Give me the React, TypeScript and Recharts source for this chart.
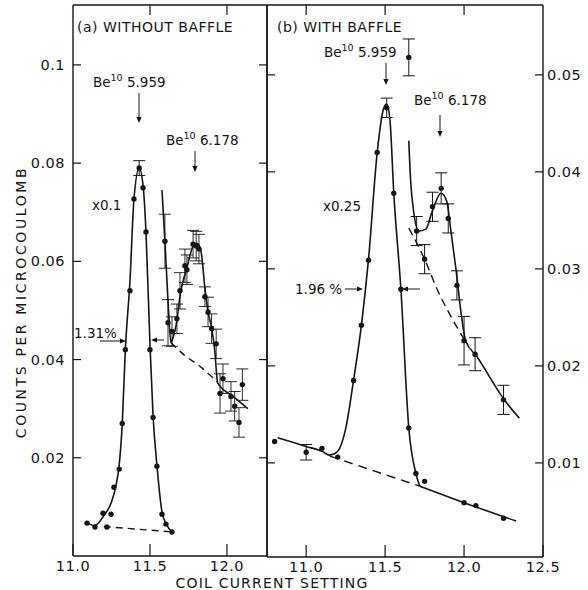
import React from 'react';
import { ComposedChart, Line, Scatter, XAxis, YAxis, ErrorBar } from 'recharts';

// ---------- tick definitions ----------
const leftXTicks = [11.0, 11.5, 12.0];
const leftXLabels = ['11.0', '11.5', '12.0'];
const leftTopTicks = [11.5, 12.0];
const leftYTicks = [0.02, 0.04, 0.06, 0.08, 0.1];
const leftYLabels = ['0.02', '0.04', '0.06', '0.08', '0.1'];

const rightXTicks = [11.0, 11.5, 12.0, 12.5];
const rightXLabels = ['11.0', '11.5', '12.0', '12.5'];
const rightTopTicks = [11.0, 11.5, 12.0];
const rightYTicks = [0.01, 0.02, 0.03, 0.04, 0.05];
const rightYLabels = ['0.01', '0.02', '0.03', '0.04', '0.05'];

// ---------- (a) without baffle ----------
const leftPeakCurve = [
  { x: 11.09, y: 0.0068 }, { x: 11.14, y: 0.0062 }, { x: 11.2, y: 0.0082 },
  { x: 11.25, y: 0.011 }, { x: 11.28, y: 0.0145 }, { x: 11.3, y: 0.0185 },
  { x: 11.32, y: 0.027 }, { x: 11.34, y: 0.042 }, { x: 11.37, y: 0.056 },
  { x: 11.396, y: 0.0727 }, { x: 11.43, y: 0.079 }, { x: 11.455, y: 0.0755 },
  { x: 11.474, y: 0.066 }, { x: 11.5, y: 0.043 }, { x: 11.52, y: 0.0285 },
  { x: 11.545, y: 0.0185 }, { x: 11.578, y: 0.009 }, { x: 11.604, y: 0.0066 },
  { x: 11.645, y: 0.0049 },
];
const leftPeakPoints = [
  { x: 11.091, y: 0.0067 }, { x: 11.143, y: 0.0059 }, { x: 11.195, y: 0.0087 },
  { x: 11.22, y: 0.0059 }, { x: 11.247, y: 0.0085 }, { x: 11.266, y: 0.014 },
  { x: 11.3, y: 0.0177 }, { x: 11.32, y: 0.027 }, { x: 11.34, y: 0.042 },
  { x: 11.37, y: 0.054 }, { x: 11.396, y: 0.0727 }, { x: 11.455, y: 0.075 },
  { x: 11.474, y: 0.066 }, { x: 11.5, y: 0.042 }, { x: 11.52, y: 0.0282 },
  { x: 11.545, y: 0.0183 }, { x: 11.578, y: 0.0085 }, { x: 11.604, y: 0.0065 },
  { x: 11.643, y: 0.0049 },
];
const leftPeakErrPoints = [{ x: 11.43, y: 0.079, e: 0.0015 }];
const leftBaseline = [{ x: 11.2, y: 0.006 }, { x: 11.65, y: 0.0049 }];
const leftSecondCurve = [
  { x: 11.578, y: 0.0745 }, { x: 11.597, y: 0.0641 }, { x: 11.617, y: 0.052 },
  { x: 11.636, y: 0.0435 }, { x: 11.65, y: 0.0445 }, { x: 11.675, y: 0.048 },
  { x: 11.695, y: 0.053 }, { x: 11.74, y: 0.0587 }, { x: 11.78, y: 0.0631 },
  { x: 11.805, y: 0.0637 }, { x: 11.83, y: 0.0623 }, { x: 11.857, y: 0.0545 },
  { x: 11.877, y: 0.0497 }, { x: 11.9, y: 0.0465 }, { x: 11.92, y: 0.042 },
  { x: 11.94, y: 0.0352 }, { x: 12.04, y: 0.0325 }, { x: 12.136, y: 0.03 },
];
const leftSecondBg = [
  { x: 11.636, y: 0.0435 }, { x: 11.72, y: 0.041 }, { x: 11.825, y: 0.0386 },
  { x: 11.94, y: 0.0354 },
];
const leftSecondPoints = [
  { x: 11.597, y: 0.0641, e: 0.0055 }, { x: 11.617, y: 0.0475, e: 0.0047 },
  { x: 11.643, y: 0.0457, e: 0.003 }, { x: 11.675, y: 0.0483, e: 0.003 },
  { x: 11.695, y: 0.054, e: 0.0037 }, { x: 11.727, y: 0.0591, e: 0.0034 },
  { x: 11.74, y: 0.0583, e: 0.003 }, { x: 11.78, y: 0.0635, e: 0.0028 },
  { x: 11.8, y: 0.0631, e: 0.003 }, { x: 11.818, y: 0.0625, e: 0.003 },
  { x: 11.857, y: 0.0528, e: 0.002 }, { x: 11.877, y: 0.0497, e: 0.003 },
  { x: 11.9, y: 0.0463, e: 0.003 }, { x: 11.93, y: 0.0432, e: 0.003 },
  { x: 11.955, y: 0.0331, e: 0.004 }, { x: 11.974, y: 0.0361, e: 0.003 },
  { x: 12.026, y: 0.0325, e: 0.003 }, { x: 12.05, y: 0.0305, e: 0.003 },
  { x: 12.078, y: 0.0272, e: 0.003 }, { x: 12.1, y: 0.0349, e: 0.0032 },
];

// ---------- (b) with baffle ----------
const rightPeakCurve = [
  { x: 10.82, y: 0.0126 }, { x: 11.0, y: 0.0117 }, { x: 11.1, y: 0.0112 },
  { x: 11.15, y: 0.0108 }, { x: 11.2, y: 0.0112 }, { x: 11.25, y: 0.0135 },
  { x: 11.3, y: 0.0185 }, { x: 11.35, y: 0.0242 }, { x: 11.395, y: 0.031 },
  { x: 11.45, y: 0.042 }, { x: 11.49, y: 0.0465 }, { x: 11.51, y: 0.047 },
  { x: 11.53, y: 0.0455 }, { x: 11.555, y: 0.0378 }, { x: 11.6, y: 0.0279 },
  { x: 11.65, y: 0.0136 }, { x: 11.695, y: 0.0089 }, { x: 11.72, y: 0.0076 },
];
const rightBaselineDashed = [{ x: 11.15, y: 0.0107 }, { x: 11.72, y: 0.0076 }];
const rightBaselineSolid = [
  { x: 11.72, y: 0.0076 }, { x: 12.0, y: 0.0059 }, { x: 12.33, y: 0.004 },
];
const rightSecondCurve = [
  { x: 11.65, y: 0.0432 }, { x: 11.662, y: 0.039 }, { x: 11.68, y: 0.036 },
  { x: 11.713, y: 0.0339 }, { x: 11.758, y: 0.0341 }, { x: 11.8, y: 0.036 },
  { x: 11.854, y: 0.0378 }, { x: 11.89, y: 0.037 }, { x: 11.917, y: 0.0339 },
  { x: 11.95, y: 0.0298 }, { x: 11.98, y: 0.0256 }, { x: 12.01, y: 0.0226 },
  { x: 12.08, y: 0.021 }, { x: 12.255, y: 0.0165 }, { x: 12.35, y: 0.0146 },
];
const rightSecondBg = [
  { x: 11.65, y: 0.0342 }, { x: 11.75, y: 0.031 }, { x: 11.835, y: 0.0277 },
  { x: 11.92, y: 0.025 }, { x: 12.01, y: 0.0225 },
];
const rightPoints = [
  { x: 10.8, y: 0.0122 }, { x: 11.1, y: 0.0115 }, { x: 11.2, y: 0.0106 },
  { x: 11.3, y: 0.0185 }, { x: 11.35, y: 0.0242 }, { x: 11.395, y: 0.0309 },
  { x: 11.45, y: 0.042 }, { x: 11.555, y: 0.0378 }, { x: 11.6, y: 0.0279 },
  { x: 11.65, y: 0.0136 }, { x: 11.695, y: 0.0089 }, { x: 11.75, y: 0.0081 },
  { x: 12.0, y: 0.0059 }, { x: 12.075, y: 0.0056 }, { x: 12.25, y: 0.0043 },
];
const rightErrPoints = [
  { x: 11.0, y: 0.0111, e: 0.0008 }, { x: 11.51, y: 0.0466, e: 0.001 },
  { x: 11.65, y: 0.0518, e: 0.0019 }, { x: 11.7, y: 0.0339, e: 0.0015 },
  { x: 11.75, y: 0.031, e: 0.0015 }, { x: 11.8, y: 0.0364, e: 0.0015 },
  { x: 11.855, y: 0.0383, e: 0.0016 }, { x: 11.9, y: 0.0352, e: 0.0015 },
  { x: 11.955, y: 0.0283, e: 0.0015 }, { x: 12.0, y: 0.0226, e: 0.0025 },
  { x: 12.07, y: 0.0212, e: 0.0017 }, { x: 12.25, y: 0.0165, e: 0.0015 },
];

const INK = '#151515';
const FONT = '"DejaVu Sans", "Liberation Sans", sans-serif';
const TICK_FS = 14.5;

const labelFor = (ticks: number[], labels: string[], v: number) => {
  const i = ticks.findIndex((t) => Math.abs(t - v) < 1e-9);
  return i >= 0 ? labels[i] : '';
};

const makeYTick = (side: 'left' | 'right', len: number, ticks: number[], labels: string[] | null) =>
  (props: any) => {
    const { x, y, payload } = props;
    const dir = side === 'left' ? 1 : -1;
    return (
      <g>
        <line x1={x} x2={x + dir * len} y1={y} y2={y} stroke={INK} strokeWidth={1.2} />
        {labels && (
          <text
            x={side === 'left' ? x - 8 : x + 4}
            y={y + 5}
            textAnchor={side === 'left' ? 'end' : 'start'}
            fontSize={TICK_FS}
            letterSpacing={0.5}
            fontFamily={FONT}
            fill={INK}
          >
            {labelFor(ticks, labels, payload.value)}
          </text>
        )}
      </g>
    );
  };

const makeXTick = (side: 'bottom' | 'top', len: number, ticks: number[], labels: string[] | null) =>
  (props: any) => {
    const { x, y, payload } = props;
    const dir = side === 'bottom' ? -1 : 1;
    return (
      <g>
        <line x1={x} x2={x} y1={y} y2={y + dir * len} stroke={INK} strokeWidth={1.2} />
        {labels && (
          <text x={x} y={y + 15} textAnchor="middle" fontSize={TICK_FS} letterSpacing={0.5} fontFamily={FONT} fill={INK}>
            {labelFor(ticks, labels, payload.value)}
          </text>
        )}
      </g>
    );
  };

const Dot = (props: any) => <circle cx={props.cx} cy={props.cy} r={2.7} fill={INK} />;

const axisLine = { stroke: INK, strokeWidth: 1.4 };

const Arrow = ({ x1, y1, x2, y2 }: { x1: number; y1: number; x2: number; y2: number }) => {
  const ang = Math.atan2(y2 - y1, x2 - x1);
  const L = 6;
  const W = 2.6;
  const bx = x2 - L * Math.cos(ang);
  const by = y2 - L * Math.sin(ang);
  const px = -Math.sin(ang) * W;
  const py = Math.cos(ang) * W;
  return (
    <g>
      <line x1={x1} y1={y1} x2={bx} y2={by} stroke={INK} strokeWidth={1} />
      <polygon points={`${x2},${y2} ${bx + px},${by + py} ${bx - px},${by - py}`} fill={INK} />
    </g>
  );
};

const Be = ({ x, y, txt }: { x: number; y: number; txt: string }) => (
  <text x={x} y={y} fontSize={13.5} fontFamily={FONT} fill={INK}>
    Be
    <tspan fontSize={9.5} dy={-6}>10</tspan>
    <tspan dy={6}>{' ' + txt}</tspan>
  </text>
);

const axisCommon = {
  interval: 0 as const,
  tickSize: 0,
  tickMargin: 0,
  tickLine: false,
  axisLine: axisLine,
  allowDataOverflow: true,
};

export default function App() {
  return (
    <div style={{ position: 'absolute', left: 0, top: 0, width: 588, height: 590, background: '#fff' }}>
      {/* Panel (a) */}
      <ComposedChart
        width={588}
        height={590}
        margin={{ top: 4, left: 72, right: 320, bottom: 33 }}
        style={{ position: 'absolute', left: 0, top: 0 }}
      >
        <XAxis
          {...axisCommon}
          xAxisId={0}
          dataKey="x"
          type="number"
          domain={[11.0, 12.26]}
          ticks={leftXTicks}
          height={1}
          tick={makeXTick('bottom', 12, leftXTicks, leftXLabels)}
        />
        <XAxis
          {...axisCommon}
          xAxisId="top"
          orientation="top"
          dataKey="x"
          type="number"
          domain={[11.0, 12.26]}
          ticks={leftTopTicks}
          height={1}
          tick={makeXTick('top', 10, leftTopTicks, null)}
        />
        <YAxis
          {...axisCommon}
          yAxisId={0}
          type="number"
          domain={[0, 0.1122]}
          ticks={leftYTicks}
          width={1}
          tick={makeYTick('left', 8, leftYTicks, leftYLabels)}
        />
        <YAxis
          {...axisCommon}
          yAxisId="r"
          orientation="right"
          type="number"
          domain={[0, 0.1122]}
          ticks={leftYTicks}
          width={1}
          tick={makeYTick('right', 8, leftYTicks, null)}
        />
        <Line data={leftBaseline} dataKey="y" type="linear" stroke={INK} strokeWidth={1.4} strokeDasharray="7 5" dot={false} isAnimationActive={false} />
        <Line data={leftSecondBg} dataKey="y" type="monotone" stroke={INK} strokeWidth={1.4} strokeDasharray="7 5" dot={false} isAnimationActive={false} />
        <Line data={leftPeakCurve} dataKey="y" type="monotone" stroke={INK} strokeWidth={1.6} dot={false} isAnimationActive={false} />
        <Line data={leftSecondCurve} dataKey="y" type="monotone" stroke={INK} strokeWidth={1.6} dot={false} isAnimationActive={false} />
        <Scatter data={leftPeakPoints} dataKey="y" shape={Dot} isAnimationActive={false} />
        <Scatter data={leftPeakErrPoints} dataKey="y" shape={Dot} isAnimationActive={false}>
          <ErrorBar dataKey="e" direction="y" width={6} stroke={INK} strokeWidth={1} />
        </Scatter>
        <Scatter data={leftSecondPoints} dataKey="y" shape={Dot} isAnimationActive={false}>
          <ErrorBar dataKey="e" direction="y" width={6} stroke={INK} strokeWidth={0.9} />
        </Scatter>
      </ComposedChart>

      {/* Panel (b) */}
      <ComposedChart
        width={588}
        height={590}
        margin={{ top: 4, left: 266, right: 44, bottom: 32 }}
        style={{ position: 'absolute', left: 0, top: 0 }}
      >
        <XAxis
          {...axisCommon}
          xAxisId={0}
          dataKey="x"
          type="number"
          domain={[10.752, 12.5]}
          ticks={rightXTicks}
          height={1}
          tick={makeXTick('bottom', 12, rightXTicks, rightXLabels)}
        />
        <XAxis
          {...axisCommon}
          xAxisId="top"
          orientation="top"
          dataKey="x"
          type="number"
          domain={[10.752, 12.5]}
          ticks={rightTopTicks}
          height={1}
          tick={makeXTick('top', 10, rightTopTicks, null)}
        />
        <YAxis
          {...axisCommon}
          yAxisId={0}
          type="number"
          domain={[0.0003, 0.0572]}
          ticks={rightYTicks}
          width={1}
          tick={makeYTick('left', 8, rightYTicks, null)}
        />
        <YAxis
          {...axisCommon}
          yAxisId="r"
          orientation="right"
          type="number"
          domain={[0.0003, 0.0572]}
          ticks={rightYTicks}
          width={1}
          tick={makeYTick('right', 8, rightYTicks, rightYLabels)}
        />
        <Line data={rightBaselineDashed} dataKey="y" type="linear" stroke={INK} strokeWidth={1.4} strokeDasharray="9 6" dot={false} isAnimationActive={false} />
        <Line data={rightBaselineSolid} dataKey="y" type="monotone" stroke={INK} strokeWidth={1.6} dot={false} isAnimationActive={false} />
        <Line data={rightSecondBg} dataKey="y" type="monotone" stroke={INK} strokeWidth={1.4} strokeDasharray="8 5" dot={false} isAnimationActive={false} />
        <Line data={rightPeakCurve} dataKey="y" type="monotone" stroke={INK} strokeWidth={1.6} dot={false} isAnimationActive={false} />
        <Line data={rightSecondCurve} dataKey="y" type="monotone" stroke={INK} strokeWidth={1.6} dot={false} isAnimationActive={false} />
        <Scatter data={rightPoints} dataKey="y" shape={Dot} isAnimationActive={false} />
        <Scatter data={rightErrPoints} dataKey="y" shape={Dot} isAnimationActive={false}>
          <ErrorBar dataKey="e" direction="y" width={6} stroke={INK} strokeWidth={1} />
        </Scatter>
      </ComposedChart>

      {/* annotations */}
      <svg width={588} height={590} style={{ position: 'absolute', left: 0, top: 0, pointerEvents: 'none' }}>
        <text x={77} y={32} fontSize={14} letterSpacing={0.5} fontFamily={FONT} fill={INK}>(a) WITHOUT BAFFLE</text>
        <text x={277} y={32} fontSize={14} letterSpacing={0.5} fontFamily={FONT} fill={INK}>(b) WITH BAFFLE</text>

        <Be x={93} y={87} txt="5.959" />
        <Arrow x1={139} y1={93} x2={139} y2={123} />
        <Be x={166} y={145} txt="6.178" />
        <Arrow x1={195} y1={151} x2={195} y2={172} />
        <text x={92} y={210} fontSize={13.5} fontFamily={FONT} fill={INK}>x0.1</text>
        <text x={74} y={338} fontSize={13.5} fontFamily={FONT} fill={INK}>1.31%</text>
        <Arrow x1={100} y1={341} x2={126} y2={341} />
        <Arrow x1={164} y1={340} x2={151} y2={340} />

        <Be x={324} y={57} txt="5.959" />
        <Arrow x1={386} y1={63} x2={386} y2={85} />
        <Be x={414} y={105} txt="6.178" />
        <Arrow x1={440} y1={115} x2={440} y2={137} />
        <text x={323} y={211} fontSize={13.5} fontFamily={FONT} fill={INK}>x0.25</text>
        <text x={295} y={294} fontSize={13.5} fontFamily={FONT} fill={INK}>1.96 %</text>
        <Arrow x1={345} y1={289} x2={363} y2={289} />
        <Arrow x1={420} y1={289} x2={402} y2={289} />

        <text
          x={0}
          y={0}
          transform="translate(26,302) rotate(-90)"
          textAnchor="middle"
          fontSize={14}
          letterSpacing={2.6}
          fontFamily={FONT}
          fill={INK}
        >
          COUNTS PER MICROCOULOMB
        </text>
        <text x={272} y={588} textAnchor="middle" fontSize={14} letterSpacing={1.2} fontFamily={FONT} fill={INK}>
          COIL CURRENT SETTING
        </text>
      </svg>
    </div>
  );
}
